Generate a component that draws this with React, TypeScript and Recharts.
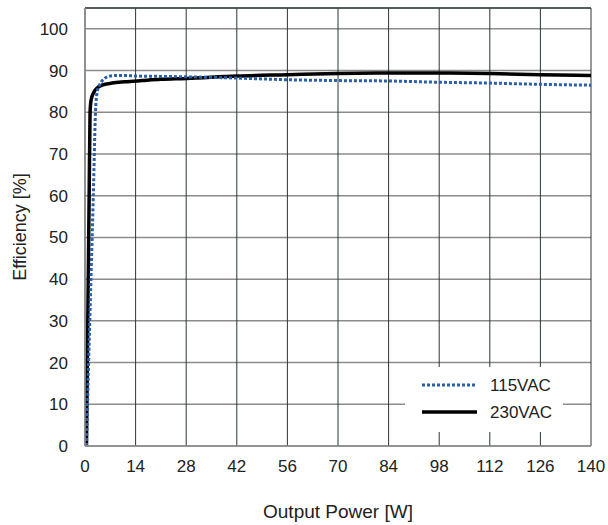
import React from 'react';
import { LineChart, Line, XAxis, YAxis, CartesianGrid, Legend, ReferenceLine, Label } from 'recharts';

const FONT = '"Liberation Sans", Arial, sans-serif';

const xTicks = [0, 14, 28, 42, 56, 70, 84, 98, 112, 126, 140];
const yTicks = [0, 10, 20, 30, 40, 50, 60, 70, 80, 90, 100];

const power115 = [0.4, 1.0, 1.65, 2.3, 2.9, 3.3, 4.0, 4.7, 5.5, 6.5, 8.3, 11, 14, 21, 28, 42, 56, 70, 84, 98, 112, 126, 140];
const eff115 = [0, 20, 40, 60, 80, 84.5, 86.5, 87.5, 88.2, 88.6, 88.8, 88.8, 88.7, 88.6, 88.5, 88.2, 87.8, 87.6, 87.5, 87.2, 87.0, 86.7, 86.5];

const power230 = [0.4, 0.65, 0.9, 1.15, 1.4, 1.7, 2.4, 3.3, 4.7, 7.5, 11, 15.8, 21, 28, 42, 56, 70, 84, 98, 112, 126, 140];
const eff230 = [0, 20, 40, 60, 80, 83, 84.7, 85.8, 86.5, 87.0, 87.3, 87.6, 87.9, 88.1, 88.7, 89.0, 89.3, 89.4, 89.4, 89.3, 89.0, 88.8];

const seriesNames = ['115VAC', '230VAC'];

const data115 = power115.map((p, i) => ({ p, e: eff115[i] }));
const data230 = power230.map((p, i) => ({ p, e: eff230[i] }));

const BLUE = '#2b5fa8';

const LegendBox = () => (
  <div style={{ background: '#fff', width: 158, height: 65, position: 'relative', fontFamily: FONT, fontSize: 17, color: '#222' }}>
    <svg width={158} height={65} style={{ position: 'absolute', left: 0, top: 0 }}>
      <line x1={17} x2={72} y1={18} y2={18} stroke={BLUE} strokeWidth={3} strokeDasharray="3 2" />
      <line x1={17} x2={72} y1={45} y2={45} stroke="#000" strokeWidth={3.5} />
      <text x={85} y={18} dominantBaseline="central" fontSize={17} fill="#222" fontFamily={FONT}>{seriesNames[0]}</text>
      <text x={85} y={45} dominantBaseline="central" fontSize={17} fill="#222" fontFamily={FONT}>{seriesNames[1]}</text>
    </svg>
  </div>
);

const YLabel = (props: any) => {
  const vb = props.viewBox || {};
  const cx = vb.x + 20;
  const cy = vb.y + vb.height / 2;
  return (
    <text x={cx} y={cy} transform={`rotate(-90, ${cx}, ${cy})`} textAnchor="middle" dominantBaseline="central" fontSize={18} fill="#222" fontFamily={FONT}>
      Efficiency [%]
    </text>
  );
};

export default function App() {
  return (
    <div style={{ position: 'absolute', left: 0, top: 0, background: '#fff' }}>
      <LineChart width={608} height={525} margin={{ top: 8, right: 17, left: 0, bottom: 0 }}>
        <CartesianGrid horizontal={true} vertical={false} stroke="#8c8c8c" strokeWidth={1.5} />
        <CartesianGrid horizontal={false} vertical={true} stroke="#2a3535" strokeWidth={1} />
        <ReferenceLine y={105} stroke="#3a4545" strokeWidth={1.5} />
        <XAxis
          type="number"
          dataKey="p"
          domain={[0, 140]}
          ticks={xTicks}
          allowDataOverflow
          height={79}
          tickLine={false}
          axisLine={{ stroke: '#8c8c8c', strokeWidth: 1.5 }}
          tick={{ fontSize: 17, fill: '#222', fontFamily: FONT }}
          tickMargin={8}
        >
          <Label value="Output Power [W]" position="insideBottom" offset={7} fontSize={19} fill="#222" fontFamily={FONT} />
        </XAxis>
        <YAxis
          type="number"
          dataKey="e"
          domain={[0, 105]}
          ticks={yTicks}
          allowDataOverflow
          width={85}
          tickLine={false}
          axisLine={{ stroke: '#8c8c8c', strokeWidth: 1.5 }}
          tick={{ fontSize: 17, fill: '#222', fontFamily: FONT }}
          tickMargin={11}
          label={<YLabel />}
        />
        <Legend
          layout="horizontal"
          verticalAlign="middle"
          align="center"
          content={<LegendBox />}
          wrapperStyle={{ position: 'absolute', left: 405, top: 367, width: 158, height: 65 }}
        />
        <Line data={data230} dataKey="e" name={seriesNames[1]} type="monotone" stroke="#000" strokeWidth={3.5} dot={false} isAnimationActive={false} />
        <Line data={data115} dataKey="e" name={seriesNames[0]} type="monotone" stroke={BLUE} strokeWidth={3} strokeDasharray="3 2" dot={false} isAnimationActive={false} />
      </LineChart>
    </div>
  );
}
